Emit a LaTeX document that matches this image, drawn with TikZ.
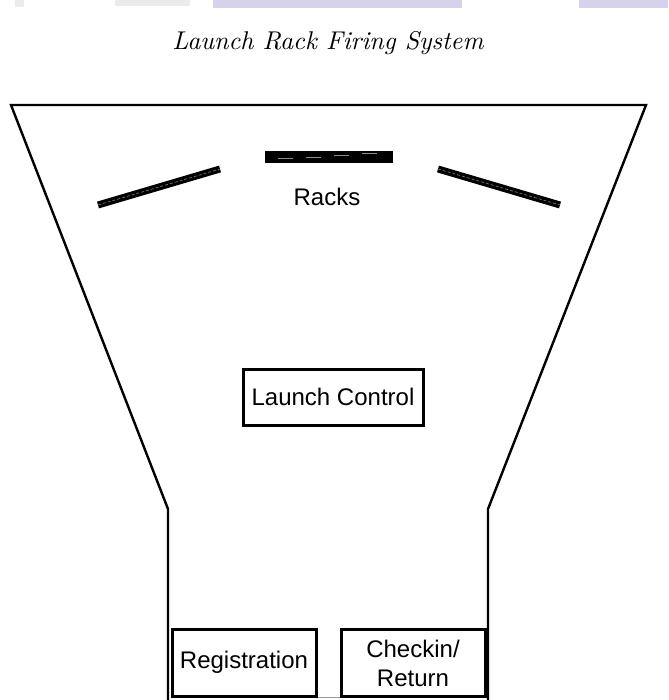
\documentclass[tikz,border=0pt]{standalone}
\usepackage{fontspec}
\setsansfont{Liberation Sans}
\usepackage{graphicx}
\definecolor{banner}{RGB}{214,210,236}
\begin{document}
\begin{tikzpicture}[x=1pt,y=-1pt,
  outline/.style={draw=black,line width=2.4pt,line join=miter},
  station/.style={draw=black,line width=3pt,fill=white},
  label/.style={font=\sffamily\fontsize{24}{29}\selectfont,align=center,inner sep=0pt},
  rackbar/.style={line width=7pt,black},
  rackmark/.style={line width=0.7pt,black!55,dash pattern=on 3pt off 2pt}]
\useasboundingbox (0,0) rectangle (668,700);
\fill[white] (0,0) rectangle (668,700);
% faint banner strip along the top edge
\fill[banner] (213,0) rectangle (462,8);
\fill[banner] (579,0) rectangle (668,8);
\fill[black!8] (115,0) rectangle (190,6);
\fill[black!8] (15,0) rectangle (24,7);
% title
\node[inner sep=0pt] (title) at (328,43)
  {\resizebox{311pt}{!}{\itshape Launch Rack Firing System}};
% site outline: funnel-shaped field
\coordinate (tl) at (11,105);
\coordinate (tr) at (646,105);
\coordinate (kl) at (168,509);
\coordinate (kr) at (488,509);
\coordinate (bl) at (168,702);
\coordinate (br) at (488,702);
\draw[outline] (bl) -- (kl) -- (tl) -- (tr) -- (kr) -- (br);
% racks
\coordinate (r1a) at (98,205);
\coordinate (r1b) at (220,169);
\coordinate (r3a) at (438,169);
\coordinate (r3b) at (560,205);
\draw[rackbar] (r1a) -- (r1b);
\draw[rackmark] (r1a) -- (r1b);
\draw[rackbar] (r3a) -- (r3b);
\draw[rackmark] (r3a) -- (r3b);
\node[fill=black,minimum width=128pt,minimum height=12pt,inner sep=0pt] (r2) at (329,157) {};
\foreach \xa/\ya in {278/158.5,306/157.5,334/156,362/154}
  \draw[black!45,line width=1pt] (\xa,\ya) -- ++(15,0);
\node[label] (racks) at (327,197) {Racks};
% launch control
\node[station,minimum width=180pt,minimum height=56pt] (lc) at (333,397) {};
\node[label] at (lc) {Launch Control};
% booths at the entrance
\node[station,minimum width=144pt,minimum height=67pt] (reg) at (244,662.5) {};
\node[label] at (reg) {Registration};
\node[station,minimum width=144pt,minimum height=67pt] (chk) at (413,662.5) {};
\node[label] at (413,663) {Checkin/\\Return};
\draw[black!40,line width=1pt] (reg.south east) -- (chk.south west);
\end{tikzpicture}
\end{document}
